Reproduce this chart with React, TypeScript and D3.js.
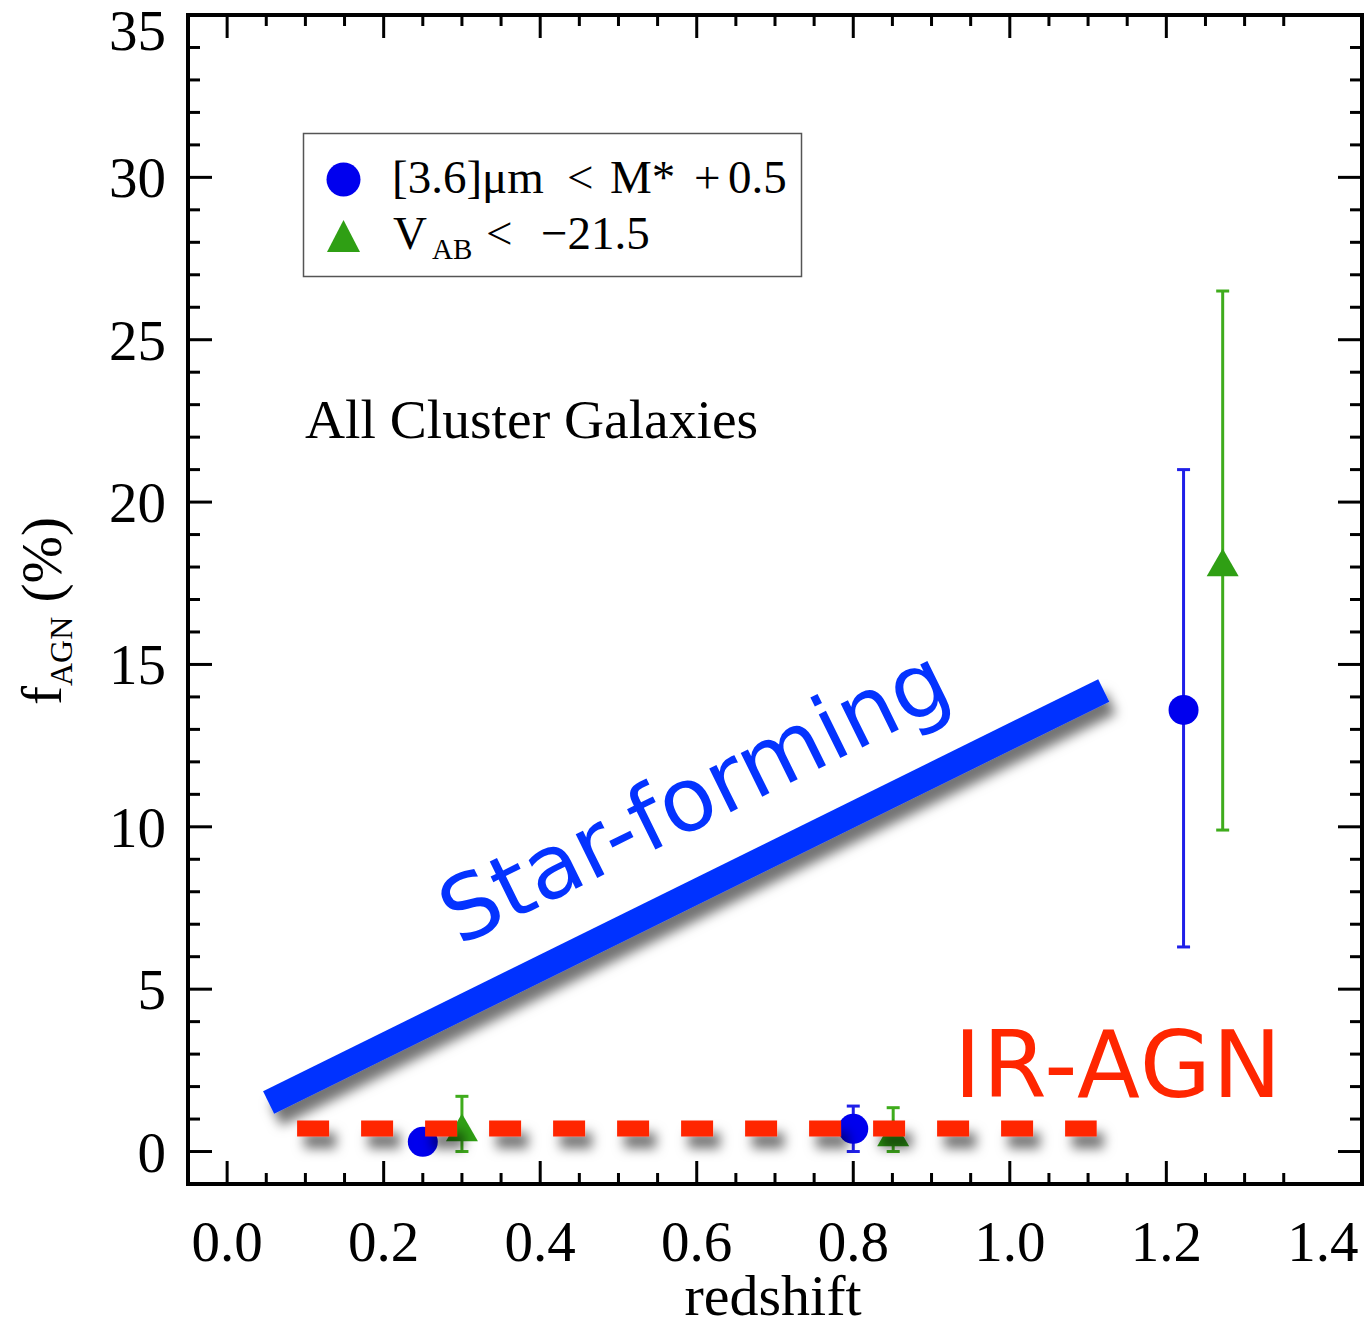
import React from 'react';
import * as d3 from 'd3';

const W = 1367;
const H = 1329;

// axis definitions
const xMajorTicks = [0.0, 0.2, 0.4, 0.6, 0.8, 1.0, 1.2, 1.4];
const xTickLabels = ['0.0', '0.2', '0.4', '0.6', '0.8', '1.0', '1.2', '1.4'];
const yMajorTicks = [0, 5, 10, 15, 20, 25, 30, 35];
const yTickLabels = ['0', '5', '10', '15', '20', '25', '30', '35'];

// series: [3.6]um < M* + 0.5 (blue circles)
const blueZ = [0.25, 0.8, 1.222];
const blueF = [0.3, 0.7, 13.6];
const blueLo = [0.3, 0.0, 6.3];
const blueHi = [0.3, 1.4, 21.0];

// series: V_AB < -21.5 (green triangles)
const greenZ = [0.3, 0.851, 1.272];
const greenF = [0.6, 0.45, 18.0];
const greenLo = [0.0, 0.0, 9.9];
const greenHi = [1.7, 1.35, 26.5];

// annotation trend lines (data coords)
const starFormingZ = [0.053, 1.12];
const starFormingF = [1.51, 14.2];
const irAgnZ = [0.0894, 1.111];
const irAgnF = [0.71, 0.71];

const SERIF = '"Liberation Serif", "Times New Roman", Times, serif';
const COMIC = '"Comic Sans MS", "DejaVu Sans", sans-serif';

export default function App() {
  const x = d3.scaleLinear().domain([-0.05, 1.45]).range([188, 1362]);
  const y = d3.scaleLinear().domain([-1, 35]).range([1184, 15]);

  const [x0, x1] = x.range();
  const [yb, yt] = y.range();

  const xMinor = d3.range(0, 29).map((i) => -0.05 + i * 0.05).filter((v) => v > -0.049 && v < 1.449);
  const yMinor = d3.range(0, 36).map((i) => i);

  const isMajorX = (v: number) => Math.abs(v / 0.2 - Math.round(v / 0.2)) < 1e-6;
  const isMajorY = (v: number) => v % 5 === 0;

  const tri = d3.symbol().type(d3.symbolTriangle).size(443);

  const sfX1 = x(starFormingZ[0]);
  const sfY1 = y(starFormingF[0]);
  const sfX2 = x(starFormingZ[1]);
  const sfY2 = y(starFormingF[1]);
  const sfAngle = (Math.atan2(sfY2 - sfY1, sfX2 - sfX1) * 180) / Math.PI;

  const tickW = 3;

  return (
    <div style={{ position: 'absolute', left: 0, top: 0 }}>
      <svg width={W} height={H} viewBox={`0 0 ${W} ${H}`} style={{ display: 'block', background: '#fff' }}>
        <defs>
          <filter id="shadow" filterUnits="userSpaceOnUse" x="0" y="0" width={W} height={H}>
            <feDropShadow dx="7" dy="12" stdDeviation="6" floodColor="#000" floodOpacity="0.55" />
          </filter>
        </defs>
        <rect x={0} y={0} width={W} height={H} fill="#fff" />

        {/* minor ticks */}
        {xMinor.map((v, i) => {
          const L = isMajorX(v) ? 23 : 11;
          return (
            <g key={'xm' + i} stroke="#000" strokeWidth={tickW}>
              <line x1={x(v)} x2={x(v)} y1={yb} y2={yb - L} />
              <line x1={x(v)} x2={x(v)} y1={yt} y2={yt + L} />
            </g>
          );
        })}
        {yMinor.map((v, i) => {
          const L = isMajorY(v) ? 24 : 12;
          return (
            <g key={'ym' + i} stroke="#000" strokeWidth={tickW}>
              <line x1={x0} x2={x0 + L} y1={y(v)} y2={y(v)} />
              <line x1={x1} x2={x1 - L} y1={y(v)} y2={y(v)} />
            </g>
          );
        })}

        {/* frame */}
        <rect x={x0} y={yt} width={x1 - x0} height={yb - yt} fill="none" stroke="#000" strokeWidth={4} />

        {/* tick labels */}
        {xMajorTicks.map((v, i) => (
          <text key={'xl' + i} x={x(v)} y={1261} textAnchor="middle" fontFamily={SERIF} fontSize={57} fill="#000">
            {xTickLabels[i]}
          </text>
        ))}
        {yMajorTicks.map((v, i) => (
          <text
            key={'yl' + i}
            x={166}
            y={Math.max(y(v), 30) + 20}
            textAnchor="end"
            fontFamily={SERIF}
            fontSize={57}
            fill="#000"
          >
            {yTickLabels[i]}
          </text>
        ))}

        {/* axis titles */}
        <text x={773} y={1315} textAnchor="middle" fontFamily={SERIF} fontSize={58} fill="#000">
          redshift
        </text>
        <text transform="translate(61,705) rotate(-90)" fontFamily={SERIF} fontSize={57} fill="#000">
          <tspan>f</tspan>
          <tspan fontSize={32} dy={11}>AGN</tspan>
          <tspan dy={-11}> (%)</tspan>
        </text>

        {/* legend */}
        <rect x={303.5} y={133.5} width={498} height={143} fill="#fff" stroke="#555" strokeWidth={1.5} />
        <circle cx={343.5} cy={179.5} r={17} fill="#0000ee" />
        <path d="M343.5,220 L360,252 L327,252 Z" fill="#2f9f14" />
        <g fontFamily={SERIF} fontSize={47} fill="#000">
          <text x={392} y={193}>[3.6]μm</text>
          <text x={567} y={193}>&lt;</text>
          <text x={610} y={193}>M*</text>
          <text x={694} y={193}>+</text>
          <text x={728} y={193}>0.5</text>
          <text x={393} y={249}>V</text>
          <text x={432} y={259} fontSize={29}>AB</text>
          <text x={486} y={249}>&lt;</text>
          <text x={541} y={249}>−21.5</text>
        </g>

        {/* panel label */}
        <text x={305} y={438} fontFamily={SERIF} fontSize={55.5} fill="#000">
          All Cluster Galaxies
        </text>

        {/* error bars: blue */}
        {blueZ.map((z, i) =>
          blueHi[i] > blueLo[i] ? (
            <g key={'be' + i} stroke="#1f1fe8" strokeWidth={3}>
              <line x1={x(z)} x2={x(z)} y1={y(blueLo[i])} y2={y(blueHi[i])} />
              <line x1={x(z) - 6.5} x2={x(z) + 6.5} y1={y(blueLo[i])} y2={y(blueLo[i])} />
              <line x1={x(z) - 6.5} x2={x(z) + 6.5} y1={y(blueHi[i])} y2={y(blueHi[i])} />
            </g>
          ) : null
        )}
        {/* error bars: green */}
        {greenZ.map((z, i) => (
          <g key={'ge' + i} stroke="#3fac1c" strokeWidth={3}>
            <line x1={x(z)} x2={x(z)} y1={y(greenLo[i])} y2={y(greenHi[i])} />
            <line x1={x(z) - 6.5} x2={x(z) + 6.5} y1={y(greenLo[i])} y2={y(greenLo[i])} />
            <line x1={x(z) - 6.5} x2={x(z) + 6.5} y1={y(greenHi[i])} y2={y(greenHi[i])} />
          </g>
        ))}
        {/* markers */}
        {blueZ.map((z, i) => (
          <circle key={'bc' + i} cx={x(z)} cy={y(blueF[i])} r={15} fill="#0000ee" />
        ))}
        {greenZ.map((z, i) => (
          <path key={'gt' + i} d={tri() as string} transform={`translate(${x(z)},${y(greenF[i])})`} fill="#2f9f14" />
        ))}

        {/* Star-forming trend */}
        <line
          x1={sfX1}
          y1={sfY1}
          x2={sfX2}
          y2={sfY2}
          stroke="#0433ff"
          strokeWidth={25}
          strokeLinecap="butt"
          filter="url(#shadow)"
        />
        <text
          transform={`translate(${x(0.614)},${y(10.1)}) rotate(${sfAngle})`}
          textAnchor="middle"
          fontFamily={COMIC}
          fontSize={89}
          fill="#0433ff"
        >
          Star-forming
        </text>

        {/* IR-AGN trend */}
        <line
          x1={x(irAgnZ[0])}
          y1={y(irAgnF[0])}
          x2={x(irAgnZ[1])}
          y2={y(irAgnF[1])}
          stroke="#ff2600"
          strokeWidth={16}
          strokeDasharray="32 32"
          strokeLinecap="butt"
          filter="url(#shadow)"
        />
        <text x={954} y={1097} fontFamily={COMIC} fontSize={92} letterSpacing={1.5} fill="#ff2600">
          IR-AGN
        </text>
      </svg>
    </div>
  );
}
